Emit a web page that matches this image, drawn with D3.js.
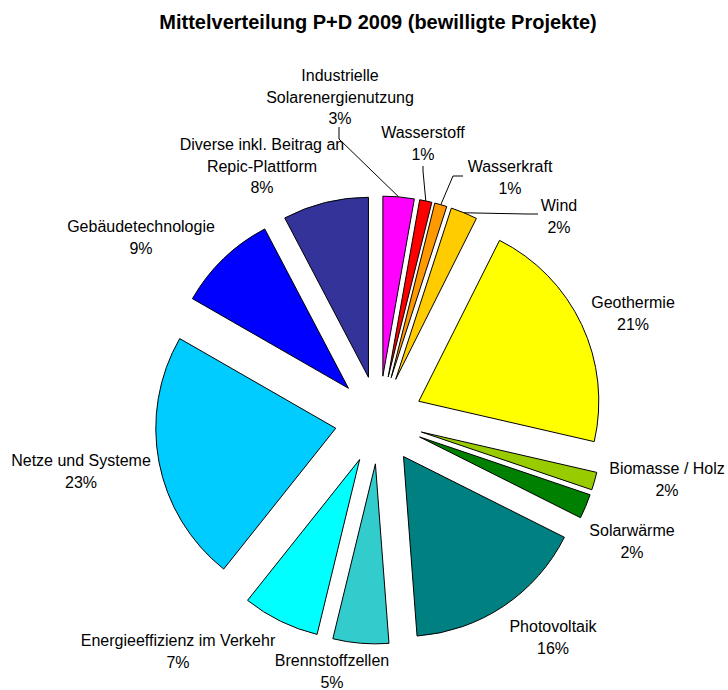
<!DOCTYPE html>
<html lang="de">
<head>
  <meta charset="UTF-8">
  <script src="https://d3js.org/d3.v7.min.js"></script>
  <title>Mittelverteilung P+D 2009</title>
  <style>
    body { margin: 0; background: #fff; }
    text { font-family: Arial, "Liberation Sans", sans-serif; fill: #000; }
  </style>
</head>
<body>
  <script>
    // Data, clockwise from 12 o'clock
    var categories = [
      ["Industrielle", "Solarenergienutzung"],
      ["Wasserstoff"],
      ["Wasserkraft"],
      ["Wind"],
      ["Geothermie"],
      ["Biomasse / Holz"],
      ["Solarwärme"],
      ["Photovoltaik"],
      ["Brennstoffzellen"],
      ["Energieeffizienz im Verkehr"],
      ["Netze und Systeme"],
      ["Gebäudetechnologie"],
      ["Diverse inkl. Beitrag an", "Repic-Plattform"]
    ];
    var shares = [2.8, 1.1, 1.1, 2.4, 21.2, 1.6, 2.2, 16.4, 5.0, 6.9, 22.6, 9.0, 7.7];
    var colors = ["#FF00FF", "#FF0000", "#FF9900", "#FFCC00", "#FFFF00", "#99CC00", "#008000",
                  "#008080", "#33CCCC", "#00FFFF", "#00CCFF", "#0000FF", "#333399"];

    const w = 728, h = 690;
    const cx = 379, cy = 420, radius = 180, explode = 44;
    const lineGap = 21.5;

    // where each label block sits (centre of first line)
    var labelPos = [[340, 75], [423, 132], [510, 166], [559, 205], [633, 302], [667, 468], [632, 530],
                    [553, 626], [332, 660], [178, 640], [81, 460], [141, 226], [262, 144]];
    // leader line elbows (label side), only for the small top slices
    var leaders = { 0: [[339, 127], [339, 139]], 1: [[423, 166], [423, 171]],
                    2: [[463, 176], [453, 176]], 3: [[538, 214], [527, 214]] };

    var svg = d3.select("body").append("svg")
      .attr("width", w)
      .attr("height", h);

    svg.append("text")
      .attr("x", 378)
      .attr("y", 29)
      .attr("text-anchor", "middle")
      .attr("font-size", "20px")
      .attr("font-weight", "bold")
      .text("Mittelverteilung P+D 2009 (bewilligte Projekte)");

    var pie = d3.pie().sort(null).value(function (d) { return d; });
    var arcs = pie(shares);
    var arc = d3.arc().innerRadius(0).outerRadius(radius);

    function mid(d) { return (d.startAngle + d.endAngle) / 2; }

    var g = svg.append("g").attr("transform", "translate(" + cx + "," + cy + ")");

    g.selectAll("path.slice")
      .data(arcs)
      .enter()
      .append("path")
      .attr("class", "slice")
      .attr("d", arc)
      .attr("transform", function (d) {
        var a = mid(d);
        return "translate(" + (explode * Math.sin(a)) + "," + (-explode * Math.cos(a)) + ")";
      })
      .attr("fill", function (d, i) { return colors[i]; })
      .attr("stroke", "#000")
      .attr("stroke-width", 1)
      .attr("stroke-linejoin", "round");

    // leader lines: from label to the outer edge of the slice
    arcs.forEach(function (d, i) {
      if (!leaders[i]) return;
      var a = mid(d);
      var r = radius + explode;
      var pts = leaders[i].concat([[cx + r * Math.sin(a), cy - r * Math.cos(a)]]);
      svg.append("polyline")
        .attr("points", pts.map(function (p) { return p.join(","); }).join(" "))
        .attr("fill", "none")
        .attr("stroke", "#000")
        .attr("stroke-width", 1);
    });

    // labels
    var labels = svg.selectAll("text.lbl")
      .data(arcs)
      .enter()
      .append("text")
      .attr("class", "lbl")
      .attr("text-anchor", "middle")
      .attr("font-size", "16px");

    labels.each(function (d, i) {
      var lines = categories[i].concat([Math.round(shares[i]) + "%"]);
      var t = d3.select(this);
      lines.forEach(function (s, k) {
        t.append("tspan")
          .attr("x", labelPos[i][0])
          .attr("y", labelPos[i][1] + 6 + k * lineGap)
          .text(s);
      });
    });
  </script>
</body>
</html>
